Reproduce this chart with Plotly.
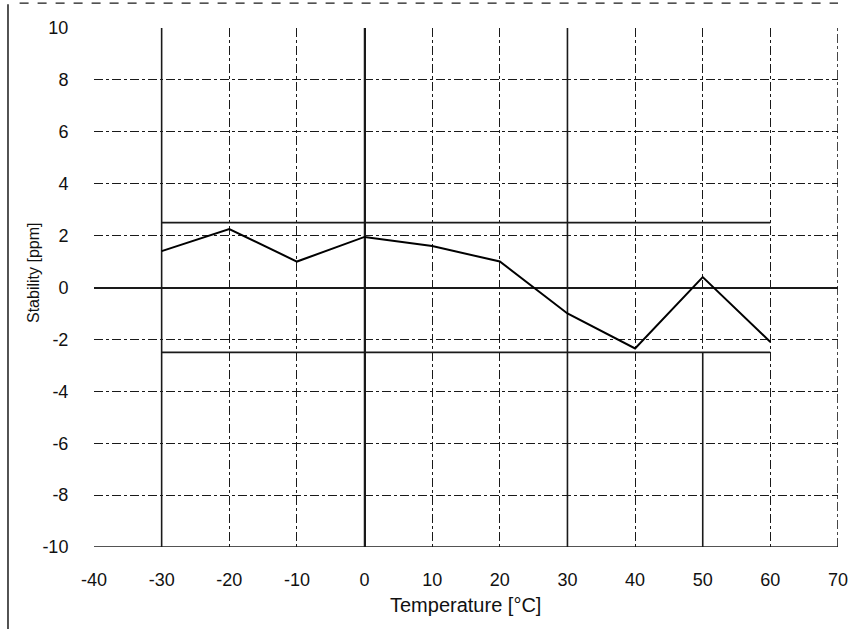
import plotly.graph_objects as go

# ---- data ----
temperature_c = [-30, -20, -10, 0, 10, 20, 30, 40, 50, 60]
stability_ppm = [1.4, 2.25, 1.0, 1.95, 1.6, 1.0, -1.0, -2.35, 0.4, -2.1]
limit_upper = 2.5
limit_lower = -2.5
limit_x = [-30, 60]
x_ticks = [-40, -30, -20, -10, 0, 10, 20, 30, 40, 50, 60, 70]
x_tick_labels = ["-40", "-30", "-20", "-10", "0", "10", "20", "30", "40", "50", "60", "70"]
y_ticks = [-10, -8, -6, -4, -2, 0, 2, 4, 6, 8, 10]
y_tick_labels = ["-10", "-8", "-6", "-4", "-2", "0", "2", "4", "6", "8", "10"]
solid_vlines = [-30, 0, 30]
x_range = [-40, 70]
y_range = [-10, 10]
x_title = "Temperature [°C]"
y_title = "Stability [ppm]"

INK = "#1a1a1a"
FONT = "Liberation Sans, Arial, sans-serif"

fig = go.Figure()

# solid vertical grid lines
for xv in solid_vlines:
    fig.add_trace(go.Scatter(x=[xv, xv], y=y_range, mode="lines",
                             line=dict(color=INK, width=1.6),
                             hoverinfo="skip", showlegend=False))
# x=50 : solid lower part
fig.add_trace(go.Scatter(x=[50, 50], y=[y_range[0], limit_lower], mode="lines",
                         line=dict(color=INK, width=1.6),
                         hoverinfo="skip", showlegend=False))
# right border
fig.add_trace(go.Scatter(x=[x_range[1], x_range[1]], y=y_range, mode="lines",
                         line=dict(color=INK, width=1.6, dash="dashdot"),
                         hoverinfo="skip", showlegend=False))
# bottom border
fig.add_trace(go.Scatter(x=x_range, y=[y_range[0], y_range[0]], mode="lines",
                         line=dict(color=INK, width=1.6),
                         hoverinfo="skip", showlegend=False))
# limit lines
for lv in (limit_upper, limit_lower):
    fig.add_trace(go.Scatter(x=limit_x, y=[lv, lv], mode="lines",
                             line=dict(color=INK, width=1.6),
                             hoverinfo="skip", showlegend=False))

# data line
fig.add_trace(go.Scatter(x=temperature_c, y=stability_ppm, mode="lines",
                         line=dict(color="#000000", width=2),
                         showlegend=False))

axis_common = dict(
    showgrid=True, gridcolor=INK, gridwidth=1, griddash="dashdot",
    showline=False, zeroline=True, zerolinecolor=INK, zerolinewidth=1.6,
    ticks="outside", tickcolor="rgba(0,0,0,0)",
    tickfont=dict(family=FONT, size=18, color="#111"),
    fixedrange=True, automargin=False,
)

fig.update_layout(
    width=849, height=629,
    margin=dict(l=94, r=11, t=28, b=82),
    paper_bgcolor="white", plot_bgcolor="white",
    font=dict(family=FONT, color="#111"),
    xaxis=dict(range=x_range, tickvals=x_ticks, ticktext=x_tick_labels, ticklen=16,
               **axis_common),
    yaxis=dict(range=y_range, tickvals=y_ticks, ticktext=y_tick_labels, ticklen=21,
               **axis_common),
    annotations=[
        dict(text=x_title, xref="paper", yref="paper", x=0.4987, y=-0.1118,
             xanchor="center", yanchor="middle", showarrow=False,
             font=dict(family=FONT, size=20, color="#111")),
        dict(text=y_title, xref="paper", yref="paper", x=-0.0806, y=0.528,
             xanchor="center", yanchor="middle", textangle=-90, showarrow=False,
             font=dict(family=FONT, size=16, color="#111")),
    ],
    shapes=[
        dict(type="line", xref="paper", yref="paper",
             x0=-0.1156, x1=-0.1156, y0=-0.16, y1=1.046,
             line=dict(color=INK, width=1.5)),
        dict(type="line", xref="paper", yref="paper",
             x0=-0.10, x1=1.0, y0=1.048, y1=1.048,
             line=dict(color=INK, width=1.2, dash="dash")),
    ],
)

fig.write_html(
    "out.html",
    config={"displayModeBar": False},
    post_script="document.body.style.margin='0';document.body.style.overflow='hidden';",
)
